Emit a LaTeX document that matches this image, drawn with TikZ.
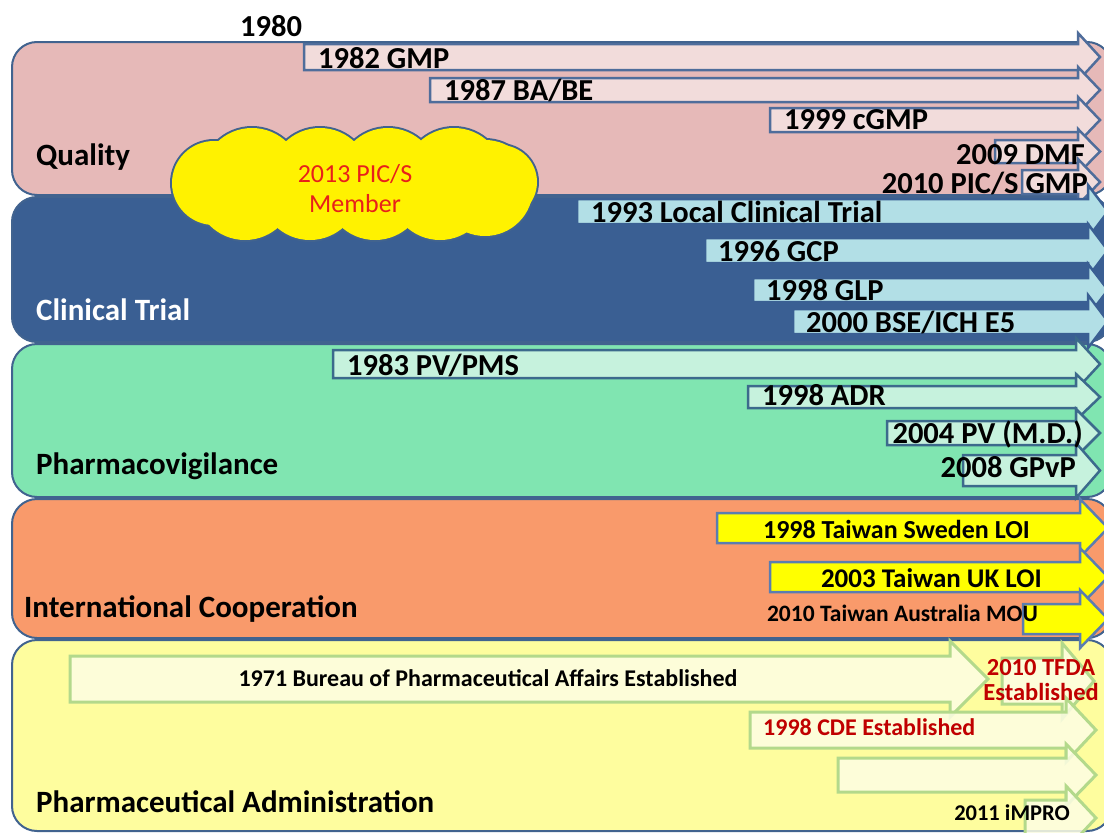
\documentclass[tikz,border=0pt]{standalone}
\usepackage{fontspec}
\setmainfont{Carlito}

\definecolor{edge}{HTML}{41638F}
\definecolor{qband}{HTML}{E6B9B8}
\definecolor{qarrow}{HTML}{F2DCDB}
\definecolor{qline}{HTML}{4F6D9B}
\definecolor{cband}{HTML}{3A5F93}
\definecolor{carrow}{HTML}{B2DFE6}
\definecolor{pband}{HTML}{80E5B1}
\definecolor{parrow}{HTML}{C6F2DD}
\definecolor{pline}{HTML}{3C6A8C}
\definecolor{iband}{HTML}{F99A6B}
\definecolor{iarrow}{HTML}{FFFF00}
\definecolor{iline}{HTML}{5B7DB0}
\definecolor{aband}{HTML}{FEFD9E}
\definecolor{aarrow}{HTML}{FDFDE4}
\definecolor{aline}{HTML}{B3D98B}
\definecolor{darkred}{HTML}{C00000}
\definecolor{cloudred}{HTML}{E8201A}

% block arrow: style, left x, top y, bottom y, head base x, tip x, head overhang
\newcommand{\blockarrow}[7]{%
  \path[#1] (#2,#3) -- (#5,#3) -- (#5,{#3-#7}) -- (#6,{(#3+#4)/2})
    -- (#5,{#4+#7}) -- (#5,#4) -- (#2,#4) -- cycle;}

% puffs of the membership cloud: x/y/radius
\newcommand{\cloudpuffs}{214/183/42, 245/190/50, 310/190/50, 375/190/50, 440/190/50, 485/188/48,
  252/178/50, 320/178/50, 388/178/50, 454/178/50, 500/182/37}

\tikzset{
  band/.style={draw=edge, line width=2pt, rounded corners=25pt},
  bandlabel/.style={font=\fontsize{31}{34}\selectfont\bfseries, inner sep=0pt, anchor=base west},
  biglabel/.style={font=\fontsize{30.5}{34}\selectfont\bfseries, inner sep=0pt},
  smalllabel/.style={font=\fontsize{24}{26}\selectfont\bfseries, inner sep=0pt},
  qstyle/.style={fill=qarrow, draw=qline, line width=2.5pt},
  cstyle/.style={fill=carrow, draw=cband, line width=2.5pt},
  pstyle/.style={fill=parrow, draw=pline, line width=2.5pt},
  istyle/.style={fill=iarrow, draw=iline, line width=2.5pt},
  astyle/.style={fill=aarrow, fill opacity=0.85, draw=aline, line width=3pt},
}

\begin{document}
\begin{tikzpicture}[x=1pt, y=-1pt]
\useasboundingbox (0,0) rectangle (1104,833);
\fill[white] (0,0) rectangle (1104,833);
\clip (0,0) rectangle (1104,833);

% bands
\path[band, fill=qband] (12,42) rectangle (1112,195);
\path[band, fill=cband] (12,197) rectangle (1112,342);
\path[band, fill=pband] (12,344) rectangle (1112,497);
\path[band, fill=iband] (12,499) rectangle (1112,638);
\path[band, fill=aband] (12,640) rectangle (1112,831);

% band titles
\node[bandlabel] (tq) at (36,165) {Quality};
\node[bandlabel, text=white] (tc) at (36,320) {Clinical Trial};
\node[bandlabel] (tp) at (36,474) {Pharmacovigilance};
\node[bandlabel] (ti) at (24,617) {International Cooperation};
\node[bandlabel] (ta) at (36,812) {Pharmaceutical Administration};

\node[biglabel, anchor=base west] (y1980) at (240,36) {1980};

% quality
\blockarrow{qstyle}{304}{44}{70}{1078}{1100}{11}
\blockarrow{qstyle}{430}{78}{102}{1078}{1100}{11}
\blockarrow{qstyle}{770}{108}{132}{1078}{1100}{11}
\blockarrow{qstyle}{995}{140}{163}{1078}{1100}{11}
\blockarrow{qstyle}{1022}{170}{194}{1078}{1100}{11}
\node[biglabel, anchor=base west] (gmp) at (318,68) {1982 GMP};
\node[biglabel, anchor=base west] (babe) at (444,100) {1987 BA/BE};
\node[biglabel, anchor=base west] (cgmp) at (784,129) {1999 cGMP};
\node[biglabel, anchor=base east] (dmf) at (1085,164) {2009 DMF};
\node[biglabel, anchor=base east] (pics) at (1088,193) {2010 PIC/S GMP};

% clinical trial
\blockarrow{cstyle}{577}{199}{224}{1088}{1108}{14}
\blockarrow{cstyle}{705}{238}{263}{1088}{1108}{14}
\blockarrow{cstyle}{753}{278}{302}{1088}{1108}{14}
\blockarrow{cstyle}{793}{309}{334}{1088}{1108}{14}
\node[biglabel, anchor=base west] (lct) at (591,222) {1993 Local Clinical Trial};
\node[biglabel, anchor=base west] (gcp) at (718,261) {1996 GCP};
\node[biglabel, anchor=base west] (glp) at (766,300) {1998 GLP};
\node[biglabel, anchor=base west] (bse) at (806,332) {2000 BSE/ICH E5};

% pharmacovigilance
\blockarrow{pstyle}{333}{350}{378}{1076}{1100}{12}
\blockarrow{pstyle}{748}{386}{408}{1076}{1100}{12}
\blockarrow{pstyle}{887}{421}{445}{1076}{1100}{12}
\blockarrow{pstyle}{963}{455}{486}{1076}{1100}{12}
\node[biglabel, anchor=base west] (pms) at (347,375) {1983 PV/PMS};
\node[biglabel, anchor=base west] (adr) at (762,405) {1998 ADR};
\node[biglabel, anchor=base east] (pvmd) at (1083,443) {2004 PV (M.D.)};
\node[biglabel, anchor=base east] (gpvp) at (1076,477) {2008 GPvP};

% international cooperation
\blockarrow{istyle}{717}{513}{543}{1080}{1108}{14}
\blockarrow{istyle}{770}{562}{592}{1080}{1108}{14}
\blockarrow{istyle}{1023}{604}{634}{1080}{1108}{14}
\node[font=\fontsize{26}{28}\selectfont\bfseries, inner sep=0pt, anchor=base east] (swe) at (1030,538) {1998 Taiwan Sweden LOI};
\node[font=\fontsize{27}{28}\selectfont\bfseries, inner sep=0pt, anchor=base east] (uk) at (1042,587) {2003 Taiwan UK LOI};
\node[font=\fontsize{23.5}{26}\selectfont\bfseries, inner sep=0pt, anchor=base east] (mou) at (1038,621) {2010 Taiwan Australia MOU};

% pharmaceutical administration
\blockarrow{astyle}{70}{656}{702}{950}{988}{15}
\blockarrow{astyle}{1002}{658}{704}{1062}{1094}{15}
\blockarrow{astyle}{750}{712}{748}{1066}{1096}{14}
\blockarrow{astyle}{838}{758}{792}{1066}{1096}{14}
\blockarrow{astyle}{1025}{800}{836}{1066}{1096}{14}
\node[smalllabel, anchor=center] (bpa) at (488,678) {1971 Bureau of Pharmaceutical Affairs Established};
\node[smalllabel, font=\fontsize{24.5}{25}\selectfont\bfseries, text=darkred, align=center] (tfda) at (1041,680) {2010 TFDA\\Established};
\node[smalllabel, text=darkred, anchor=base west] (cde) at (763,735) {1998 CDE Established};
\node[smalllabel, font=\fontsize{22.5}{26}\selectfont\bfseries, anchor=base east] (impro) at (1070,820) {2011 iMPRO};

% membership cloud: outlined puffs, then a fill that hides the inner arcs
\foreach \cx/\cy/\r in \cloudpuffs
  \filldraw[fill=yellow, draw=edge, line width=4pt] (\cx,\cy) circle[radius=\r];
\foreach \cx/\cy/\r in \cloudpuffs
  \fill[yellow] (\cx,\cy) circle[radius=\r];
\node[text=cloudred, align=center, font=\fontsize{26}{30}\selectfont, inner sep=0pt]
  (cloudtext) at (355,189) {2013 PIC/S\\Member};
\end{tikzpicture}
\end{document}
